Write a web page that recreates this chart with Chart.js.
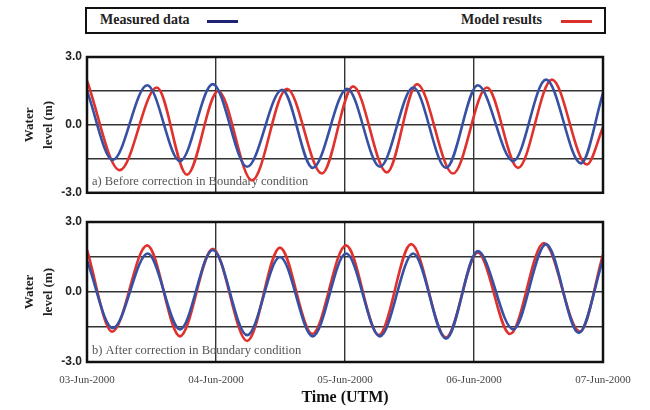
<!DOCTYPE html>
<html>
<head>
<meta charset="utf-8">
<script src="https://cdn.jsdelivr.net/npm/chart.js@4"></script>
<style>
  html, body { margin: 0; padding: 0; background: #fff; }
  body { width: 650px; height: 410px; position: relative; overflow: hidden; }
  canvas { position: absolute; left: 0; }
  #legend { position: absolute; left: 85px; top: 7px; width: 521px; height: 27px; box-sizing: border-box;
    border: 2.5px solid #111; font-family: "Liberation Serif", serif; font-weight: bold; font-size: 14px; color: #222; }
  #legend span { position: absolute; top: 3px; white-space: nowrap; }
  #legend i { position: absolute; top: 11px; height: 3px; width: 31px; }
</style>
</head>
<body>
<div id="legend">
  <span style="left:13px">Measured data</span><i style="left:120px;background:#1f2373"></i>
  <span style="left:374px">Model results</span><i style="left:474px;background:#d9302c"></i>
</div>
<canvas id="ca" width="650" height="205" style="top:0"></canvas>
<canvas id="cb" width="650" height="205" style="top:205px"></canvas>
<script>
// ---- data (hours since 03-Jun-2000 00:00, water level in m) ----
const xTickLabels = ['03-Jun-2000', '04-Jun-2000', '05-Jun-2000', '06-Jun-2000', '07-Jun-2000'];
const seriesNames = ['Measured data', 'Model results'];
const panelTitles = ['a) Before correction in Boundary condition', 'b) After correction in Boundary condition'];

const hoursMeasuredA = [0, 4.8, 11.2, 17.3, 23.4, 29.8, 36.3, 42.0, 48.4, 54.5, 60.7, 66.8, 72.7, 79.3, 85.4, 91.9, 96];
const levelMeasuredA = [1.5, -1.55, 1.75, -1.6, 1.8, -1.85, 1.55, -1.9, 1.6, -1.85, 1.65, -1.9, 1.75, -1.6, 2.0, -1.7, 1.4];
const hoursModelA = [0, 6.1, 13.0, 18.6, 24.4, 30.7, 37.2, 43.7, 49.5, 55.8, 61.4, 68.1, 74.4, 80.2, 86.5, 93.0, 96];
const levelModelA = [1.95, -2.0, 1.65, -2.2, 1.5, -2.45, 1.6, -2.15, 1.7, -2.1, 1.8, -2.15, 1.65, -1.9, 2.0, -1.75, -0.1];

const hoursMeasuredB = [0, 4.8, 11.3, 17.3, 23.4, 29.8, 35.9, 42.0, 48.2, 54.5, 60.7, 66.8, 72.7, 79.3, 85.4, 91.5, 96];
const levelMeasuredB = [1.35, -1.55, 1.65, -1.6, 1.8, -1.85, 1.5, -1.9, 1.65, -1.9, 1.65, -2.0, 1.75, -1.6, 2.05, -1.75, 1.4];
const hoursModelB = [0, 4.7, 11.2, 17.3, 23.4, 29.8, 35.9, 41.9, 48.2, 54.3, 60.3, 66.8, 72.7, 78.7, 85.0, 91.7, 96];
const levelModelB = [1.8, -1.7, 2.0, -1.9, 1.85, -2.1, 1.9, -1.8, 2.0, -1.85, 2.05, -1.95, 1.7, -1.8, 2.1, -1.7, 1.6];

const yTickShown = [3, 0, -3];

function pts(h, v) { return h.map((x, i) => ({ x: x, y: v[i] })); }

const framePlugin = {
  id: 'frame',
  beforeDatasetsDraw(chart, args, opts) {
    const a = chart.chartArea, ctx = chart.ctx;
    ctx.save();
    ctx.font = '12.5px "Liberation Serif", serif';
    ctx.fillStyle = '#555';
    ctx.textBaseline = 'middle';
    ctx.fillText(opts.text, a.left + 5, a.bottom - 11);
    ctx.restore();
  },
  afterDraw(chart) {
    const a = chart.chartArea, ctx = chart.ctx;
    ctx.save();
    ctx.strokeStyle = '#111';
    ctx.lineWidth = 2.5;
    ctx.strokeRect(a.left, a.top, a.right - a.left, a.bottom - a.top);
    ctx.restore();
  }
};

function makeChart(id, hm, vm, hr, vr, title, showX, padTop) {
  return new Chart(document.getElementById(id), {
    type: 'line',
    data: {
      datasets: [
        { label: seriesNames[0], data: pts(hm, vm), borderColor: '#3651a3', borderWidth: 2.6,
          pointRadius: 0, cubicInterpolationMode: 'monotone', order: 1 },
        { label: seriesNames[1], data: pts(hr, vr), borderColor: '#e0312d', borderWidth: 2.6,
          pointRadius: 0, cubicInterpolationMode: 'monotone', order: 2 }
      ]
    },
    options: {
      responsive: false,
      animation: false,
      events: [],
      layout: { padding: { top: padTop, right: 47, left: 0, bottom: showX ? 0 : 8 } },
      plugins: { legend: { display: false }, tooltip: { enabled: false }, frame: { text: title } },
      scales: {
        x: {
          type: 'linear', min: 0, max: 96,
          afterFit: s => { s.height = showX ? 48 : 0; },
          grid: { color: '#333', lineWidth: 1.4, drawTicks: false },
          border: { display: false },
          ticks: {
            display: showX, stepSize: 24, maxRotation: 0, padding: 12, autoSkip: false,
            color: '#444', font: { family: '"Liberation Serif", serif', size: 11 },
            callback: v => xTickLabels[Math.round(v / 24)]
          },
          title: {
            display: showX, text: 'Time (UTM)', color: '#111', padding: { bottom: 3, top: 0 },
            font: { family: '"Liberation Serif", serif', size: 16, weight: 'bold' }
          }
        },
        y: {
          min: -3, max: 3,
          afterFit: s => { s.width = 87; },
          grid: { color: '#333', lineWidth: 1.4, drawTicks: false },
          border: { display: false },
          ticks: {
            stepSize: 1.5, padding: 5, color: '#222',
            font: { family: '"Liberation Sans", sans-serif', size: 12, weight: 'bold' },
            callback: v => yTickShown.includes(v) ? v.toFixed(1) : ''
          },
          title: {
            display: true, text: ['Water', 'level (m)'], color: '#222', padding: { top: 21, bottom: 0 },
            font: { family: '"Liberation Serif", serif', size: 13, weight: 'bold', lineHeight: 1.4 }
          }
        }
      }
    },
    plugins: [framePlugin]
  });
}

makeChart('ca', hoursMeasuredA, levelMeasuredA, hoursModelA, levelModelA, panelTitles[0], false, 57);
makeChart('cb', hoursMeasuredB, levelMeasuredB, hoursModelB, levelModelB, panelTitles[1], true, 17);
</script>
</body>
</html>
